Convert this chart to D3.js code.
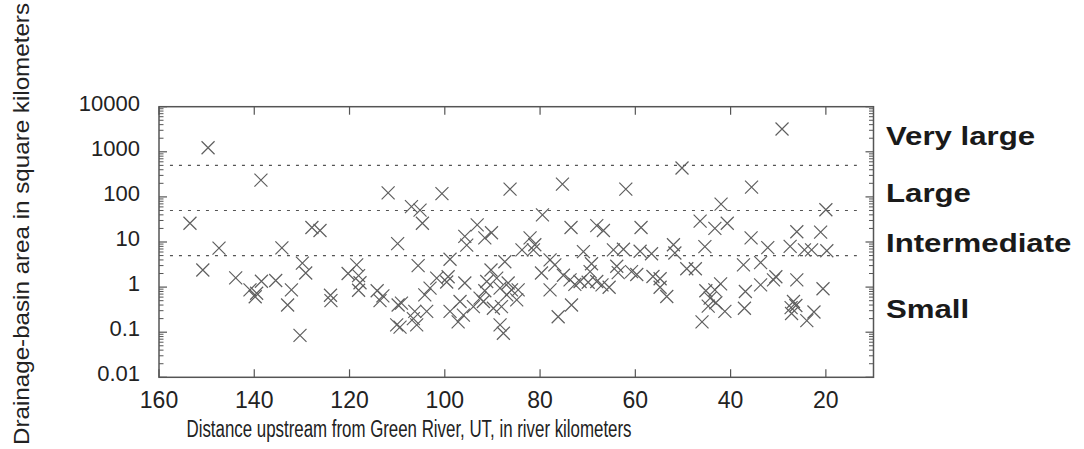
<!DOCTYPE html>
<html><head><meta charset="utf-8">
<script src="https://cdn.jsdelivr.net/npm/d3@7"></script>
<style>html,body{margin:0;padding:0;background:#fff;} svg{display:block;}</style>
</head><body><svg id="c" width="1084" height="449"></svg>
<script>
const distanceKm = [149.7,138.6,153.5,147.4,134.2,150.8,143.9,138.5,135.5,140.9,139.5,139.8,132.2,133.0,129.9,129.2,130.4,127.9,126.2,124.0,123.9,120.3,118.5,118.1,117.8,118.1,114.2,113.6,113.0,111.9,109.9,109.8,109.1,110.1,109.4,
100.6,86.3,107.0,105.2,104.7,93.2,90.2,91.6,95.8,95.4,105.6,98.9,87.4,90.3,82.1,81.1,83.8,101.7,99.3,99.6,95.8,103.1,104.2,91.2,89.1,88.4,86.7,86.0,84.6,84.9,87.0,106.3,105.9,103.8,106.6,98.9,96.8,97.2,96.1,92.6,94.0,91.9,89.8,88.1,88.4,87.7,91.6,
75.3,62.0,79.5,73.5,68.1,66.7,58.8,81.4,70.9,64.6,62.5,59.0,77.9,76.9,79.7,69.2,69.5,63.9,63.6,60.8,59.7,75.1,73.7,72.7,71.6,69.9,68.1,67.0,65.5,77.9,73.4,76.2,
50.2,35.6,42.0,46.4,43.3,40.7,35.7,56.6,52.0,51.7,45.4,37.3,33.7,49.2,47.4,56.3,54.8,54.8,53.4,45.2,42.1,43.3,44.3,44.7,43.1,41.2,46.0,36.9,37.1,33.7,
29.2,20.0,26.1,21.1,32.2,27.5,24.5,23.0,19.8,31.0,30.5,26.1,20.6,26.8,27.3,26.3,27.2,22.5,24.0];
const areaSqKm = [1230,236,26,7.3,7.4,2.4,1.6,1.35,1.4,0.87,0.73,0.61,0.87,0.40,3.4,2.05,0.085,21,18,0.66,0.50,2.0,3.1,1.8,1.25,0.85,0.83,0.50,0.64,123,9.2,0.40,0.44,0.145,0.13,
118,149,61,51,26,24,16,12.3,13.3,8.5,3.0,4.15,3.65,2.4,12.3,8.7,6.7,1.58,1.7,1.3,1.23,0.95,0.67,1.33,1.58,0.95,1.23,0.87,0.87,0.52,0.67,0.29,0.145,0.29,0.20,0.29,0.48,0.17,0.24,0.57,0.37,0.48,0.34,0.37,0.145,0.095,0.83,
192,149,40,21,23,18,21,6.7,6.1,6.7,6.9,6.25,4.0,3.1,2.05,3.3,2.2,2.9,2.1,2.2,1.9,1.83,1.45,1.15,1.33,1.28,1.33,1.12,0.99,0.87,0.40,0.22,
437,165,69,29,20,26,12.3,5.5,8.7,5.7,7.9,3.1,3.5,2.55,2.55,1.72,1.53,0.99,0.62,0.83,1.18,0.87,0.57,0.38,0.45,0.29,0.17,0.80,0.34,1.12,
3210,52,16.9,16.5,7.5,8.0,6.7,6.7,6.4,1.45,1.7,1.45,0.92,0.48,0.35,0.39,0.26,0.28,0.18];

const xTickValues = [160,140,120,100,80,60,40,20];
const yTickValues = [0.01,0.1,1,10,100,1000,10000];
const yTickLabels = ["0.01","0.1","1","10","100","1000","10000"];
const classThresholds = [500,50,5];
const classNames = ["Very large","Large","Intermediate","Small"];
const classLabelAt = [2300,125,10,0.33];
const xTitle = "Distance upstream from Green River, UT, in river kilometers";
const yTitle = "Drainage-basin area in square kilometers";

const L = 159, R = 873.5, T = 106.7, B = 377.3;
const svg = d3.select("#c");
svg.append("rect").attr("width",1084).attr("height",449).attr("fill","#fff");

const x = d3.scaleLinear().domain([160,10]).range([L,R]);
const y = d3.scaleLog().domain([0.01,10000]).range([B,T]);

const axisCol = "#555", textCol = "#222", markCol = "#5f5f5f";
const font = "'Liberation Sans', Arial, Helvetica, sans-serif";

// minor ticks
const minor = [];
for (let e=-2;e<4;e++) for (let m=2;m<10;m++) minor.push(m*Math.pow(10,e));
const g = svg.append("g");
[[L,1],[R,-1]].forEach(([x0,dir])=>{
  g.selectAll(null).data(minor).join("line")
    .attr("x1",x0).attr("x2",x0+dir*4.5)
    .attr("y1",d=>y(d)).attr("y2",d=>y(d))
    .attr("stroke",axisCol).attr("stroke-width",1);
  g.selectAll(null).data(yTickValues).join("line")
    .attr("x1",x0).attr("x2",x0+dir*8)
    .attr("y1",d=>y(d)).attr("y2",d=>y(d))
    .attr("stroke",axisCol).attr("stroke-width",1.2);
});
[[B,-1],[T,1]].forEach(([y0,dir])=>{
  g.selectAll(null).data(xTickValues).join("line")
    .attr("x1",d=>x(d)).attr("x2",d=>x(d))
    .attr("y1",y0).attr("y2",y0+dir*8)
    .attr("stroke",axisCol).attr("stroke-width",1.2);
});

// frame
svg.append("rect").attr("x",L).attr("y",T).attr("width",R-L).attr("height",B-T)
  .attr("fill","none").attr("stroke",axisCol).attr("stroke-width",1.5);

// class threshold dashed lines
svg.selectAll(null).data(classThresholds).join("line")
  .attr("x1",x(157.7)).attr("x2",x(13.5))
  .attr("y1",d=>y(d)).attr("y2",d=>y(d))
  .attr("stroke","#555").attr("stroke-width",1.1).attr("stroke-dasharray","3,6");

// tick labels
svg.selectAll(null).data(yTickValues).join("text")
  .attr("x",140).attr("y",d=>y(d)+4)
  .attr("text-anchor","end").attr("font-family",font).attr("font-size",22)
  .attr("fill",textCol).text((d,i)=>yTickLabels[i]);
svg.selectAll(null).data(xTickValues).join("text")
  .attr("x",d=>x(d)).attr("y",408)
  .attr("text-anchor","middle").attr("font-family",font).attr("font-size",23)
  .attr("fill",textCol).text(d=>d);

// markers
const s = 6.5;
const pts = distanceKm.map((d,i)=>[d,areaSqKm[i]]);
const mk = svg.append("g").attr("stroke",markCol).attr("stroke-width",1.2).attr("fill","none");
mk.selectAll("path").data(pts).join("path")
  .attr("d",d=>{const cx=x(d[0]),cy=y(d[1]);
    return `M${cx-s},${cy-s}L${cx+s},${cy+s}M${cx-s},${cy+s}L${cx+s},${cy-s}`;});

// class labels
svg.selectAll(null).data(classNames).join("text")
  .attr("transform",(d,i)=>`translate(886,${y(classLabelAt[i])+9.5}) scale(1.2,1)`)
  .attr("font-family",font).attr("font-size",26).attr("font-weight","bold")
  .attr("fill","#1a1a1a").text(d=>d);

// axis titles
svg.append("text").attr("x",409).attr("y",437)
  .attr("text-anchor","middle").attr("font-family",font).attr("font-size",23)
  .attr("textLength",445).attr("lengthAdjust","spacingAndGlyphs")
  .attr("fill",textCol).text(xTitle);
svg.append("text").attr("transform","translate(29,224) rotate(-90)")
  .attr("text-anchor","middle").attr("font-family",font).attr("font-size",22)
  .attr("textLength",442).attr("lengthAdjust","spacingAndGlyphs")
  .attr("fill",textCol).text(yTitle);
</script></body></html>
